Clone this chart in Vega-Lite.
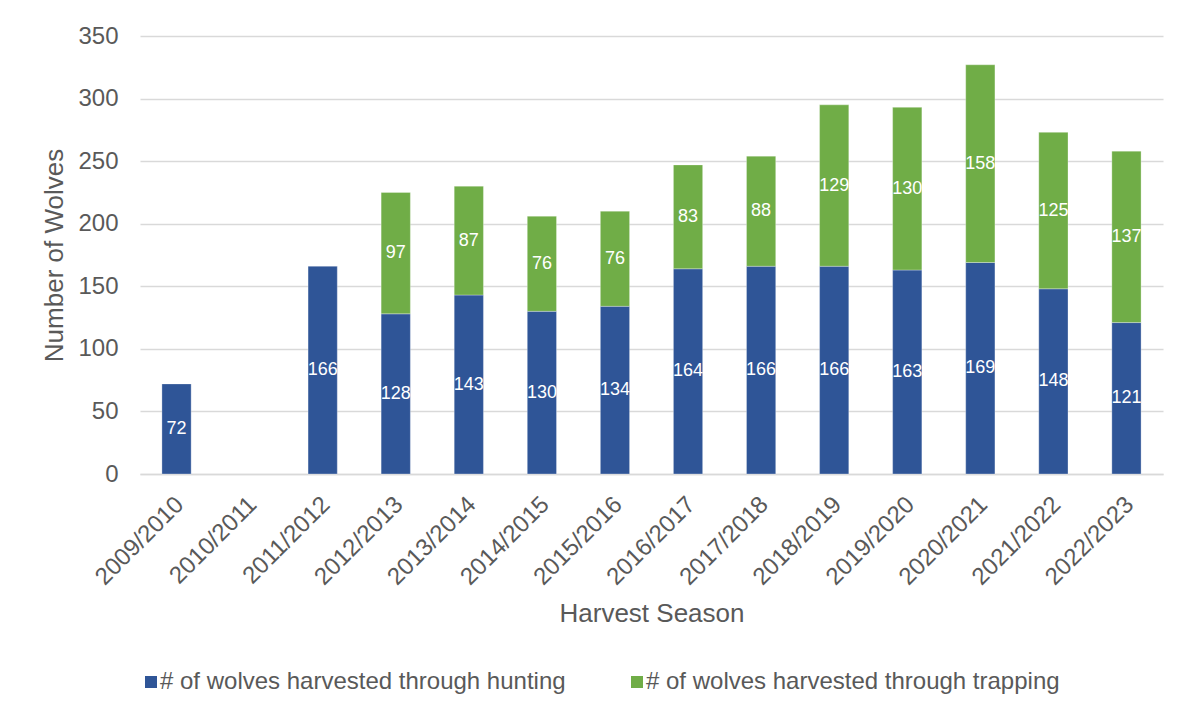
{
  "$schema": "https://vega.github.io/schema/vega-lite/v6.json",
  "width": 1023,
  "height": 438,
  "autosize": {"type": "none"},
  "padding": {"left": 140, "top": 36, "right": 19, "bottom": 239},
  "background": "white",
  "config": {
    "font": "Liberation Sans",
    "view": {"stroke": null}
  },
  "data": {
    "values": [
      {"season": "2009/2010", "type": "# of wolves harvested through hunting", "count": 72},
      {"season": "2011/2012", "type": "# of wolves harvested through hunting", "count": 166},
      {"season": "2012/2013", "type": "# of wolves harvested through hunting", "count": 128},
      {"season": "2012/2013", "type": "# of wolves harvested through trapping", "count": 97},
      {"season": "2013/2014", "type": "# of wolves harvested through hunting", "count": 143},
      {"season": "2013/2014", "type": "# of wolves harvested through trapping", "count": 87},
      {"season": "2014/2015", "type": "# of wolves harvested through hunting", "count": 130},
      {"season": "2014/2015", "type": "# of wolves harvested through trapping", "count": 76},
      {"season": "2015/2016", "type": "# of wolves harvested through hunting", "count": 134},
      {"season": "2015/2016", "type": "# of wolves harvested through trapping", "count": 76},
      {"season": "2016/2017", "type": "# of wolves harvested through hunting", "count": 164},
      {"season": "2016/2017", "type": "# of wolves harvested through trapping", "count": 83},
      {"season": "2017/2018", "type": "# of wolves harvested through hunting", "count": 166},
      {"season": "2017/2018", "type": "# of wolves harvested through trapping", "count": 88},
      {"season": "2018/2019", "type": "# of wolves harvested through hunting", "count": 166},
      {"season": "2018/2019", "type": "# of wolves harvested through trapping", "count": 129},
      {"season": "2019/2020", "type": "# of wolves harvested through hunting", "count": 163},
      {"season": "2019/2020", "type": "# of wolves harvested through trapping", "count": 130},
      {"season": "2020/2021", "type": "# of wolves harvested through hunting", "count": 169},
      {"season": "2020/2021", "type": "# of wolves harvested through trapping", "count": 158},
      {"season": "2021/2022", "type": "# of wolves harvested through hunting", "count": 148},
      {"season": "2021/2022", "type": "# of wolves harvested through trapping", "count": 125},
      {"season": "2022/2023", "type": "# of wolves harvested through hunting", "count": 121},
      {"season": "2022/2023", "type": "# of wolves harvested through trapping", "count": 137}
    ]
  },
  "encoding": {
    "x": {
      "field": "season",
      "type": "nominal",
      "sort": null,
      "scale": {
        "domain": ["2009/2010", "2010/2011", "2011/2012", "2012/2013", "2013/2014", "2014/2015", "2015/2016", "2016/2017", "2017/2018", "2018/2019", "2019/2020", "2020/2021", "2021/2022", "2022/2023"],
        "paddingInner": 0.6,
        "paddingOuter": 0.3
      },
      "axis": {
        "title": "Harvest Season",
        "titleFontSize": 26,
        "titleFontWeight": "normal",
        "titleColor": "#595959",
        "titlePadding": 11,
        "labelAngle": -45,
        "labelFontSize": 24,
        "labelColor": "#595959",
        "labelPadding": 18,
        "labelOffset": -5,
        "ticks": false,
        "domainColor": "#D9D9D9",
        "domainWidth": 1.3,
        "grid": false
      }
    }
  },
  "layer": [
    {
      "mark": {"type": "bar", "stroke": "#ffffff", "strokeWidth": 0.5, "strokeOpacity": 0.6},
      "encoding": {
        "y": {
          "field": "count",
          "type": "quantitative",
          "stack": "zero",
          "scale": {"domain": [0, 350], "nice": false},
          "axis": {
            "title": "Number of Wolves",
            "titleFontSize": 26,
            "titleFontWeight": "normal",
            "titleColor": "#595959",
            "titlePadding": 10,
            "values": [0, 50, 100, 150, 200, 250, 300, 350],
            "labelFontSize": 24,
            "labelColor": "#595959",
            "labelPadding": 22,
            "ticks": false,
            "domain": false,
            "grid": true,
            "gridColor": "#D9D9D9",
            "gridWidth": 1.3
          }
        },
        "color": {
          "field": "type",
          "type": "nominal",
          "scale": {
            "domain": ["# of wolves harvested through hunting", "# of wolves harvested through trapping"],
            "range": ["#2F5597", "#70AD47"]
          },
          "legend": {
            "title": null,
            "orient": "none",
            "legendX": -1,
            "legendY": 634,
            "direction": "horizontal",
            "symbolType": "square",
            "symbolSize": 144,
            "symbolStrokeWidth": 0,
            "labelFontSize": 24,
            "labelColor": "#595959",
            "labelOffset": -3,
            "columnPadding": 59,
            "padding": 0,
            "labelLimit": 600
          }
        },
        "order": {"field": "type", "sort": "ascending"}
      }
    },
    {
      "transform": [
        {"stack": "count", "groupby": ["season"], "sort": [{"field": "type", "order": "ascending"}], "as": ["lo", "hi"]},
        {"fold": ["lo", "hi"], "as": ["edge", "pos"]}
      ],
      "mark": {"type": "text", "color": "#ffffff", "fontSize": 18, "baseline": "middle", "align": "center"},
      "encoding": {
        "y": {"aggregate": "mean", "field": "pos", "type": "quantitative", "title": "Number of Wolves"},
        "text": {"aggregate": "max", "field": "count", "type": "quantitative"},
        "detail": {"field": "type", "type": "nominal"}
      }
    }
  ]
}
